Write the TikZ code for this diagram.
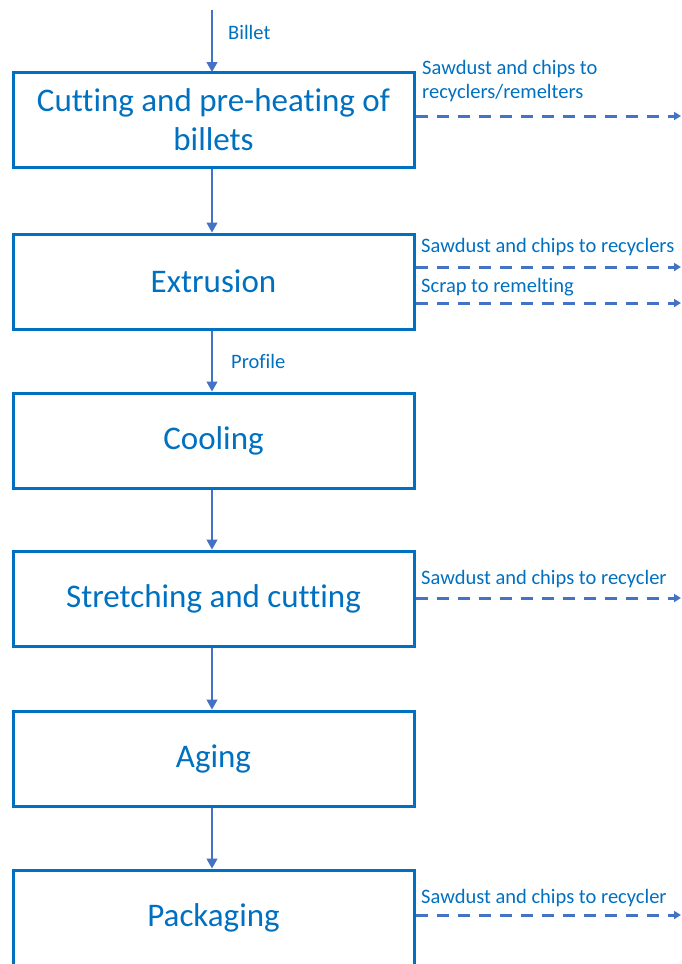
\documentclass[tikz,border=0pt]{standalone}
\usepackage{fontspec}
\setmainfont{Carlito}[RawFeature=-liga]
\usetikzlibrary{arrows.meta}
\definecolor{boxblue}{HTML}{0070C0}
\definecolor{arrblue}{HTML}{4472C4}
\tikzset{
  stepbox/.style={draw=boxblue, line width=3pt, minimum width=401pt, minimum height=95pt,
    text=boxblue, font=\fontsize{33}{39}\selectfont, align=center, inner sep=0pt},
  flow/.style={draw=arrblue, line width=1.3pt, -{Triangle[length=10pt,width=11pt]}},
  waste/.style={draw=arrblue, line width=3pt, dash pattern=on 12pt off 9pt, -{Triangle[length=7pt,width=8pt]}},
  lbl/.style={text=boxblue, font=\fontsize{20.5}{24}\selectfont, inner sep=0pt, anchor=west, align=left},
}
\begin{document}
\begin{tikzpicture}[x=1pt,y=-1pt]
\useasboundingbox (0,0) rectangle (681,964);
\node[stepbox] (b1) at (213.5,119.5) {Cutting and pre-heating of\\billets};
\node[stepbox] (b2) at (213.5,281.5) {Extrusion};
\node[stepbox] (b3) at (213.5,440.5) {Cooling};
\node[stepbox] (b4) at (213.5,598.5) {Stretching and cutting};
\node[stepbox] (b5) at (213.5,758.5) {Aging};
\node[stepbox] (b6) at (213.5,917.5) {Packaging};
\coordinate (top) at (212,10);
\draw[flow] (top) -- (212,72);
\node[lbl] at (228,32) {Billet};
\draw[flow] (b1.south -| 212,0) -- (b2.north -| 212,0);
\draw[flow] (b2.south -| 212,0) -- (b3.north -| 212,0);
\node[lbl] at (231,361) {Profile};
\draw[flow] (b3.south -| 212,0) -- (b4.north -| 212,0);
\draw[flow] (b4.south -| 212,0) -- (b5.north -| 212,0);
\draw[flow] (b5.south -| 212,0) -- (b6.north -| 212,0);
% waste streams
\coordinate (e1) at (681,116);
\coordinate (e2a) at (681,267);
\coordinate (e2b) at (681,303);
\coordinate (e4) at (681,598);
\coordinate (e6) at (681,915);
\draw[waste] (b1.east |- e1) -- (e1);
\node[lbl] at (422,81) {Sawdust and chips to\\recyclers/remelters};
\draw[waste] (b2.east |- e2a) -- (e2a);
\node[lbl] at (421,247) {Sawdust and chips to recyclers};
\draw[waste] (b2.east |- e2b) -- (e2b);
\node[lbl] at (421,287) {Scrap to remelting};
\draw[waste] (b4.east |- e4) -- (e4);
\node[lbl] at (421,579) {Sawdust and chips to recycler};
\draw[waste] (b6.east |- e6) -- (e6);
\node[lbl] at (421,898) {Sawdust and chips to recycler};
\end{tikzpicture}
\end{document}
